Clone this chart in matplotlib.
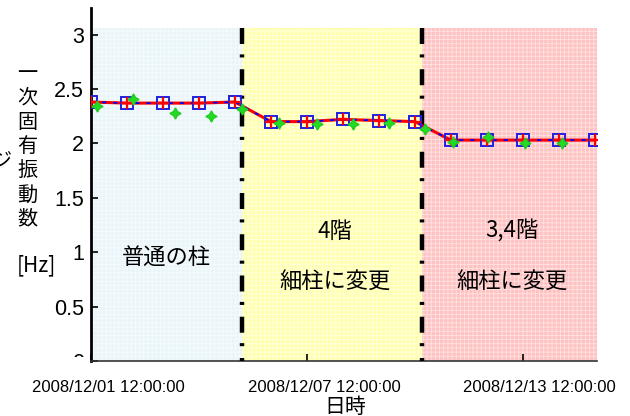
import matplotlib
matplotlib.use("Agg")
import matplotlib.pyplot as plt
import matplotlib.dates as mdates
import matplotlib.transforms as mtransforms
from matplotlib.patches import Rectangle
from datetime import datetime
import numpy as np

plt.rcParams['lines.scale_dashes'] = False
plt.rcParams['hatch.linewidth'] = 0.6

# ---------------- data ----------------
times = ["2008-12-01 12:00", "2008-12-02 12:00", "2008-12-03 12:00", "2008-12-04 12:00",
         "2008-12-05 12:00", "2008-12-06 12:00", "2008-12-07 12:00", "2008-12-08 12:00",
         "2008-12-09 12:00", "2008-12-10 12:00", "2008-12-11 12:00", "2008-12-12 12:00",
         "2008-12-13 12:00", "2008-12-14 12:00", "2008-12-15 12:00"]
freq = [2.38, 2.37, 2.37, 2.37, 2.38,
        2.20, 2.20, 2.22, 2.21, 2.20,
        2.03, 2.03, 2.03, 2.03, 2.03]

g_times = ["2008-12-01 16:00", "2008-12-02 16:00", "2008-12-03 20:00", "2008-12-04 20:00",
           "2008-12-05 16:30", "2008-12-06 17:20", "2008-12-07 18:40", "2008-12-08 18:40",
           "2008-12-09 18:40", "2008-12-10 18:40", "2008-12-11 13:30", "2008-12-12 12:40",
           "2008-12-13 13:30", "2008-12-14 14:00"]
g_freq = [2.34, 2.41, 2.28, 2.25, 2.32,
          2.19, 2.18, 2.18, 2.19, 2.13,
          2.01, 2.06, 2.00, 2.00]

x_start = "2008-12-01 12:00"
x_end = "2008-12-15 13:30"
boundaries = ["2008-12-05 17:00", "2008-12-10 17:00"]
shade_top = 3.06
region_colors = ["#e9f5f8", "#ffffb0", "#ffc2c2"]
region_hatch_colors = ["#f6fbfd", "#ffffdc", "#ffe2e2"]

region_texts = ["普通の柱", "4階", "細柱に変更", "3,4階", "細柱に変更"]
region_text_pos = [("2008-12-03 14:00", 0.95), ("2008-12-08 06:40", 1.19),
                   ("2008-12-08 06:40", 0.73), ("2008-12-13 04:50", 1.19),
                   ("2008-12-13 04:50", 0.73)]

xtick_dates = ["2008-12-01 12:00", "2008-12-07 12:00", "2008-12-13 12:00"]
xtick_labels = ["2008/12/01 12:00:00", "2008/12/07 12:00:00", "2008/12/13 12:00:00"]
yticks = [0, 0.5, 1, 1.5, 2, 2.5, 3]
ytick_labels = ["0", "0.5", "1", "1.5", "2", "2.5", "3"]
ylabel_chars = ["一", "次", "固", "有", "振", "動", "数"]

def d(s):
    return mdates.date2num(datetime.strptime(s, "%Y-%m-%d %H:%M"))

t = np.array([d(s) for s in times])
gt = np.array([d(s) for s in g_times])

W, H = 630, 416
fig = plt.figure(figsize=(6.3, 4.16), dpi=100)
ax = fig.add_axes([91/W, 1-361/H, (597-91)/W, (361-8)/H])

xmin, xmax = d(x_start), d(x_end)
ax.set_xlim(xmin, xmax)
ax.set_ylim(0, 3.244)

# shaded regions
edges = [xmin] + [d(b) for b in boundaries] + [xmax]
for i in range(3):
    ax.add_patch(Rectangle((edges[i], 0), edges[i+1]-edges[i], shade_top,
                           facecolor=region_colors[i], edgecolor=region_hatch_colors[i],
                           hatch='++++', linewidth=0, zorder=0))

# vertical dash-dot lines
for b in boundaries:
    ln, = ax.plot([d(b), d(b)], [shade_top, 0], color='black', lw=3.2, zorder=3)
    ln.set_dashes((11.5, 7.5, 2.2, 8.5))
    ln.set_dash_capstyle('butt')

# data lines
ax.plot(t, freq, color='red', lw=2.2, zorder=4)
ax.plot(t, freq, color='blue', lw=1.3, ls=(0, (3, 5)), marker='s', ms=8,
        mfc='none', mec='#2020e0', mew=1.4, zorder=5)
ax.plot(t, freq, ls='none', marker='+', ms=9, mec='red', mew=1.6, zorder=6)
ax.plot(gt, g_freq, ls='none', marker=(4, 1, 0), ms=8, color='#22dd22',
        mec='#22cc22', zorder=7)

# region texts
for s, (ds, yv) in zip(region_texts, region_text_pos):
    ax.text(d(ds), yv, s, ha='center', va='center', fontsize=16,
            family=['Noto Sans CJK JP', 'DejaVu Sans'], zorder=8)

# spines
for s in ['top', 'right']:
    ax.spines[s].set_visible(False)
ax.spines['left'].set_linewidth(2.0)
ax.spines['bottom'].set_linewidth(1.2)
ax.spines['bottom'].set_color('#333333')
ax.patch.set_alpha(0)

ax.set_yticks(yticks)
ax.set_yticklabels(ytick_labels, family='Liberation Sans', fontsize=15.5)
ax.set_xticks([d(s) for s in xtick_dates])
ax.set_xticklabels(xtick_labels, family='Liberation Sans', fontsize=12)
ax.tick_params(axis='y', direction='in', length=5, width=1.2, pad=5)
ax.tick_params(axis='x', direction='in', length=5, width=1.2, pad=14)
off = mtransforms.ScaledTranslation(17/100, 0, fig.dpi_scale_trans)
for lbl in ax.get_xticklabels():
    lbl.set_transform(lbl.get_transform() + off)

# cover the lower part of the clipped "0" tick label
cover = Rectangle((0, 1-378/H), 89/W, (378-357)/H, transform=fig.transFigure,
                  facecolor='white', edgecolor='none', zorder=10)
fig.add_artist(cover)

# stacked y label
jp = ['Noto Sans CJK JP', 'DejaVu Sans']
for i, ch in enumerate(ylabel_chars):
    fig.text(27/W, 1-(74 + i*24.2)/H, ch, ha='center', va='center', fontsize=14.5, family=jp)
fig.text(36/W, 1-265/H, "[Hz]", ha='center', va='center', fontsize=15, family=jp)
fig.text(11/W, 1-162/H, "ジ", ha='right', va='center', fontsize=14.5, family=jp)

# x label
fig.text(345/W, 1-407/H, "日時", ha='center', va='center', fontsize=15, family=jp)

fig.savefig("out.png", dpi=100)
